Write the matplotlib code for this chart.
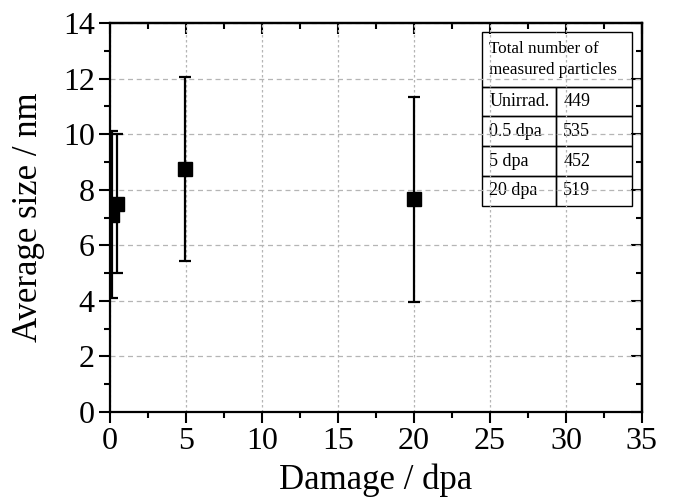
import numpy as np
import matplotlib.pyplot as plt
from matplotlib.ticker import MultipleLocator

plt.rcParams['font.family'] = ['Liberation Serif', 'DejaVu Serif']

# data
damage = [0.13, 0.48, 4.95, 20]
avg_size = [7.1, 7.5, 8.75, 7.65]
err_low = [4.1, 5.0, 5.45, 3.95]
err_high = [10.1, 10.0, 12.05, 11.35]

# table contents
tab_header = "Total number of\nmeasured particles"
tab_labels = ["Unirrad.", "0.5 dpa", "5 dpa", "20 dpa"]
tab_counts = ["449", "535", "452", "519"]

fig = plt.figure(figsize=(6.75, 5), dpi=100)
ax = fig.add_axes([0.163, 0.176, 0.788, 0.778])

y = np.array(avg_size)
yerr = [y - np.array(err_low), np.array(err_high) - y]
ax.errorbar(damage, y, yerr=yerr, fmt='s', color='black', ms=9.5,
            elinewidth=1.6, capsize=4, capthick=1.6, zorder=3)

ax.set_xlim(0, 35)
ax.set_ylim(0, 14)
ax.xaxis.set_major_locator(MultipleLocator(5))
ax.xaxis.set_minor_locator(MultipleLocator(2.5))
ax.yaxis.set_major_locator(MultipleLocator(2))
ax.yaxis.set_minor_locator(MultipleLocator(1))
# bottom/left ticks point out, top/right ticks point in (Origin style)
ax.tick_params(which='both', direction='out', width=1.5, labelsize=23)
ax.tick_params(which='major', length=8)
ax.tick_params(which='minor', length=4)
ax.tick_params(axis='x', pad=3)
ax.tick_params(axis='y', pad=3)
for sp in ax.spines.values():
    sp.set_linewidth(1.6)

sec_x = ax.secondary_xaxis('top')
sec_x.xaxis.set_major_locator(MultipleLocator(5))
sec_x.xaxis.set_minor_locator(MultipleLocator(2.5))
sec_x.tick_params(which='both', direction='in', width=1.5, labeltop=False)
sec_x.tick_params(which='major', length=8)
sec_x.tick_params(which='minor', length=4)
sec_x.spines['top'].set_linewidth(1.6)
sec_y = ax.secondary_yaxis('right')
sec_y.yaxis.set_major_locator(MultipleLocator(2))
sec_y.yaxis.set_minor_locator(MultipleLocator(1))
sec_y.tick_params(which='both', direction='in', width=1.5, labelright=False)
sec_y.tick_params(which='major', length=8)
sec_y.tick_params(which='minor', length=4)
sec_y.spines['right'].set_linewidth(1.6)

ax.xaxis.grid(True, linestyle=(0, (2, 2)), color='#b5b5b5', linewidth=0.9)
ax.yaxis.grid(True, linestyle=(0, (4, 3)), color='#b5b5b5', linewidth=0.9)
ax.set_axisbelow(True)

ax.set_xlabel("Damage / dpa", fontsize=25, labelpad=5)
ax.set_ylabel("Average size / nm", fontsize=25, labelpad=13)

# table of particle counts
cells = [[tab_header, ""]] + [[a, b] for a, b in zip(tab_labels, tab_counts)]
tbl = ax.table(cellText=cells, colWidths=[0.139, 0.143],
               bbox=[0.699, 0.530, 0.282, 0.447], cellLoc='left')
tbl.auto_set_font_size(False)
tbl.set_fontsize(13)
n_rows = len(cells)
hdr_h = 0.447 * 55 / 175
row_h = (0.447 - hdr_h) / (n_rows - 1)
for (r, c), cell in tbl.get_celld().items():
    cell.set_facecolor('none')
    cell.set_linewidth(1.0)
    cell.PAD = 0.1
    cell.set_height(hdr_h if r == 0 else row_h)
    if r == 0:
        cell.visible_edges = 'BTL' if c == 0 else 'BTR'
        cell.get_text().set_linespacing(1.45)
        cell.get_text().set_fontsize(12.3)

fig.savefig("out.png", dpi=100)
